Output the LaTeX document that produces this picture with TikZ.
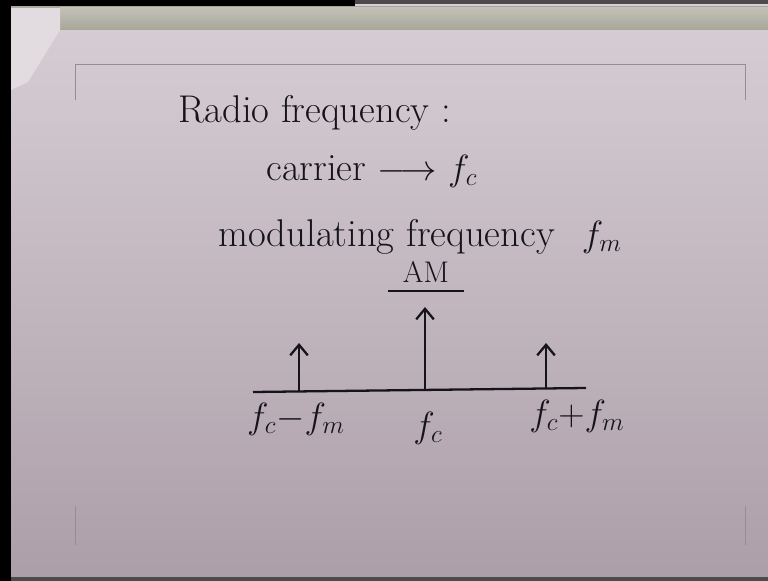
\documentclass[tikz,border=0pt]{standalone}
\usepackage{tikz}
\usetikzlibrary{arrows.meta,positioning}
\definecolor{paper}{RGB}{216,207,214}
\definecolor{paperdark}{RGB}{172,158,168}
\definecolor{ink}{RGB}{22,20,26}
\definecolor{stripcol}{RGB}{168,166,152}
\definecolor{faint}{RGB}{150,140,148}

\begin{document}
\begin{tikzpicture}[x=0.02cm,y=-0.02cm,
    hand/.style={ink,font=\fontsize{22}{26}\selectfont,inner sep=0pt},
    small/.style={ink,font=\fontsize{17}{20}\selectfont,inner sep=0pt},
    spike/.style={ink,line width=1.3pt,-{Straight Barb[length=6pt,width=10pt]}}]
  \useasboundingbox (0,0) rectangle (768,581);
  % sheet of paper
  \shade[top color=paper,bottom color=paperdark] (0,0) rectangle (768,581);
  % top strip and dark edges
  \fill[stripcol] (10,6) rectangle (768,30);
  \shade[top color=stripcol!70!white,bottom color=stripcol] (60,8) rectangle (768,30);
  \fill[black] (0,0) rectangle (355,6);
  \fill[black!70] (355,0) rectangle (768,4);
  \fill[black] (0,0) rectangle (11,581);
  \fill[black!70] (11,577) rectangle (768,581);
  % folded corner
  \fill[paper!75!white] (11,8) -- (60,8) -- (60,30) -- (28,82) -- (11,90) -- cycle;
  % faint page border
  \draw[faint,thin] (75,100) -- (75,64) -- (745,64) -- (745,100);
  \draw[faint,thin] (75,506) -- (75,545);
  \draw[faint,thin] (745,506) -- (745,545);

  % heading lines
  \node[hand,anchor=base west] (radio) at (178,123) {Radio frequency :};
  \node[hand,anchor=base west] (carrier) at (266,180) {carrier $\longrightarrow$ $f_c$};
  \node[hand,anchor=base west] (modul) at (218,246) {modulating frequency\hspace{0.7em}$f_m$};
  \node[small,anchor=base] (am) at (426,282) {AM};
  \coordinate (amL) at (388,291);
  \coordinate (amR) at (464,291);
  \draw[ink,line width=1.3pt] (amL) -- (amR);

  % frequency axis
  \coordinate (axL) at (253,392);
  \coordinate (axR) at (586,388);
  \draw[ink,line width=1.3pt] (axL) -- (axR);
  \coordinate (lsb) at (299,391);
  \coordinate (car) at (425,390);
  \coordinate (usb) at (546,389);
  \coordinate (lsbTip) at (299,343);
  \coordinate (carTip) at (425,307);
  \coordinate (usbTip) at (546,343);
  \draw[spike] (lsb) -- (lsbTip);
  \draw[spike] (car) -- (carTip);
  \draw[spike] (usb) -- (usbTip);
  \node[hand,anchor=base] (lsbLab) at (296,428) {$f_c{-}f_m$};
  \node[hand,anchor=base] (carLab) at (428,437) {$f_c$};
  \node[hand,anchor=base] (usbLab) at (577,425) {$f_c{+}f_m$};
\end{tikzpicture}
\end{document}
